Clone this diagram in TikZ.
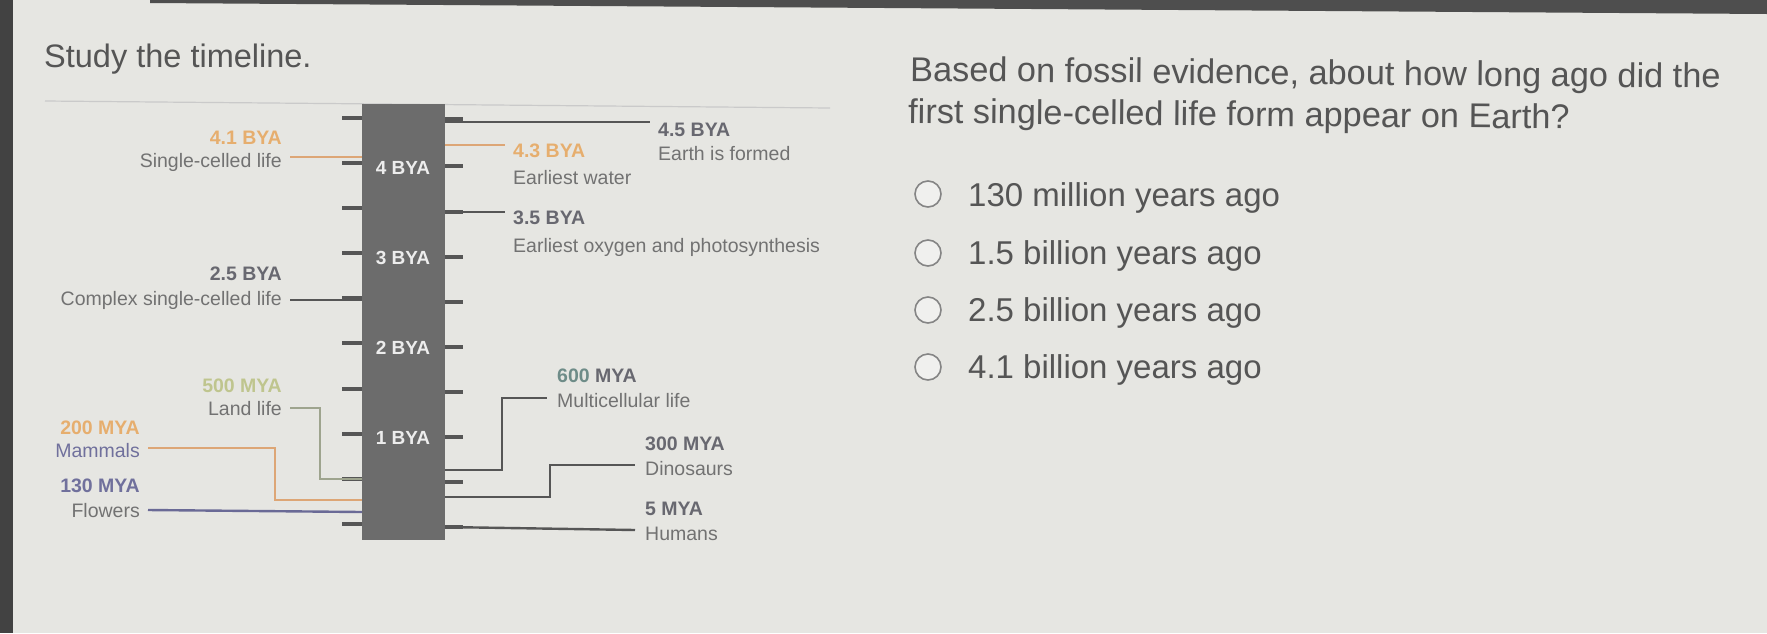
\documentclass[tikz,border=0pt]{standalone}
\usepackage{fontspec}
\setmainfont{Liberation Sans}
\definecolor{bg}{HTML}{E6E6E2}
\definecolor{strip}{HTML}{4E4E4E}
\definecolor{barc}{HTML}{6C6C6C}
\definecolor{tickc}{HTML}{565656}
\definecolor{lbl}{HTML}{727272}
\definecolor{datec}{HTML}{686870}
\definecolor{headc}{HTML}{555555}
\definecolor{orangetxt}{HTML}{E6AE6E}
\definecolor{orangeln}{HTML}{DDA676}
\definecolor{greentxt}{HTML}{BFC58E}
\definecolor{greenln}{HTML}{9EA48E}
\definecolor{purpletxt}{HTML}{70709C}
\definecolor{purpleln}{HTML}{6A6A96}
\definecolor{tealtxt}{HTML}{6E8C88}
\definecolor{sepc}{HTML}{CACACA}
\definecolor{circc}{HTML}{858585}
\begin{document}
\begin{tikzpicture}[x=1pt,y=-1pt,
  head/.style={font=\fontsize{33}{40}\selectfont, text=headc, inner sep=0, anchor=base west},
  quest/.style={font=\fontsize{34.3}{40}\selectfont, text=headc, inner sep=0, anchor=base west, rotate=-0.5},
  evl/.style={font=\fontsize{19.5}{23}\selectfont, text=lbl, inner sep=0},
  datel/.style={font=\fontsize{19.5}{23}\selectfont\bfseries, text=datec, inner sep=0},
  barlbl/.style={font=\fontsize{19}{23}\selectfont\bfseries, text=white!88!barc, inner sep=0},
  tickln/.style={draw=tickc, line width=3.2pt},
  dline/.style={draw=tickc, line width=2.4pt},
  oline/.style={draw=orangeln, line width=2.4pt},
  gline/.style={draw=greenln, line width=2.4pt},
  pline/.style={draw=purpleln, line width=2.4pt},
  radio/.style={circle, draw=circc, line width=1.6pt, fill=white!40!bg, minimum size=26pt, inner sep=0}]
\useasboundingbox (0,0) rectangle (1767,633);
\fill[bg] (0,0) rectangle (1767,633);
\fill[strip] (150,0) -- (1767,0) -- (1767,14) -- (150,3) -- cycle;
\fill[strip!85!black] (0,0) rectangle (13,633);
\draw[sepc, line width=1.2pt] (45,101) -- (830,108);

% headings
\node[head, font=\fontsize{32.5}{40}\selectfont] (study) at (44,67) {Study the timeline.};
\node[quest] (q1) at (910,81) {Based on fossil evidence, about how long ago did the};
\node[quest] (q2) at (908,123) {first single-celled life form appear on Earth?};

% answer options
\node[radio] (o1) at (928,194) {};
\node[radio] (o2) at (928,253) {};
\node[radio] (o3) at (928,310) {};
\node[radio] (o4) at (928,367) {};
\node[head] (a1) at (968,206) {130 million years ago};
\node[head] (a2) at (968,264) {1.5 billion years ago};
\node[head] (a3) at (968,321) {2.5 billion years ago};
\node[head] (a4) at (968,378) {4.1 billion years ago};

% the bar
\node[fill=barc, minimum width=83pt, minimum height=436pt, inner sep=0, anchor=north west] (bar) at (362,104) {};
\foreach \yy in {118,163,208,253,298,343,389,434,479,524}
  \draw[tickln] (342,\yy) -- (bar.west |- 0,\yy);
\foreach \yy in {119,166,212,257,302,347,392,437,482,527}
  \draw[tickln] (bar.east |- 0,\yy) -- (463,\yy);
\node[barlbl] (b4) at (403,168) {4 BYA};
\node[barlbl] (b3) at (403,258) {3 BYA};
\node[barlbl] (b2) at (403,348) {2 BYA};
\node[barlbl] (b1) at (403,438) {1 BYA};

% left labels
\node[datel, text=orangetxt, anchor=base east] (d41) at (282,144) {4.1 BYA};
\node[evl, anchor=base east] (e41) at (282,167) {Single-celled life};
\node[datel, anchor=base east] (d25) at (282,280) {2.5 BYA};
\node[evl, anchor=base east] (e25) at (282,305) {Complex single-celled life};
\node[datel, text=greentxt, anchor=base east] (d500) at (282,392) {500 MYA};
\node[evl, anchor=base east] (e500) at (282,415) {Land life};
\node[datel, text=orangetxt, anchor=base east] (d200) at (140,434) {200 MYA};
\node[evl, text=purpletxt, anchor=base east] (e200) at (140,457) {Mammals};
\node[datel, text=purpletxt, anchor=base east] (d130) at (140,492) {130 MYA};
\node[evl, anchor=base east] (e130) at (140,517) {Flowers};

% right labels
\node[datel, anchor=base west] (d45) at (658,136) {4.5 BYA};
\node[evl, anchor=base west] (e45) at (658,160) {Earth is formed};
\node[datel, text=orangetxt, anchor=base west] (d43) at (513,157) {4.3 BYA};
\node[evl, anchor=base west] (e43) at (513,184) {Earliest water};
\node[datel, anchor=base west] (d35) at (513,224) {3.5 BYA};
\node[evl, anchor=base west] (e35) at (513,252) {Earliest oxygen and photosynthesis};
\node[datel, anchor=base west] (d600) at (557,382) {\textcolor{tealtxt}{600} MYA};
\node[evl, anchor=base west] (e600) at (557,407) {Multicellular life};
\node[datel, anchor=base west] (d300) at (645,450) {300 MYA};
\node[evl, anchor=base west] (e300) at (645,475) {Dinosaurs};
\node[datel, anchor=base west] (d5) at (645,515) {5 MYA};
\node[evl, anchor=base west] (e5) at (645,540) {Humans};

% connector coordinates
\coordinate (p45) at (650,122);
\coordinate (p43) at (505,145);
\coordinate (p35) at (505,212);
\coordinate (p41) at (290,157);
\coordinate (p25) at (290,300);
\coordinate (p500) at (290,408);
\coordinate (m500) at (320,408);
\coordinate (q500) at (362,479);
\coordinate (p200) at (148,448);
\coordinate (m200) at (275,448);
\coordinate (q200) at (362,500);
\coordinate (p130) at (148,510);
\coordinate (q130) at (362,512);
\coordinate (q600) at (445,470);
\coordinate (m600) at (502,398);
\coordinate (p600) at (547,398);
\coordinate (q300) at (445,497);
\coordinate (m300) at (550,465);
\coordinate (p300) at (635,465);
\coordinate (q5) at (445,527);
\coordinate (p5) at (635,530);

% connectors
\draw[dline] (bar.east |- p45) -- (p45);
\draw[oline] (bar.east |- p43) -- (p43);
\draw[dline] (bar.east |- p35) -- (p35);
\draw[oline] (p41) -- (bar.west |- p41);
\draw[dline] (p25) -- (bar.west |- p25);
\draw[gline] (p500) -- (m500) |- (q500);
\draw[oline] (p200) -- (m200) |- (q200);
\draw[pline] (p130) -- (q130);
\draw[dline] (q600) -| (m600) -- (p600);
\draw[dline] (q300) -| (m300) -- (p300);
\draw[dline] (q5) -- (p5);
\end{tikzpicture}
\end{document}
